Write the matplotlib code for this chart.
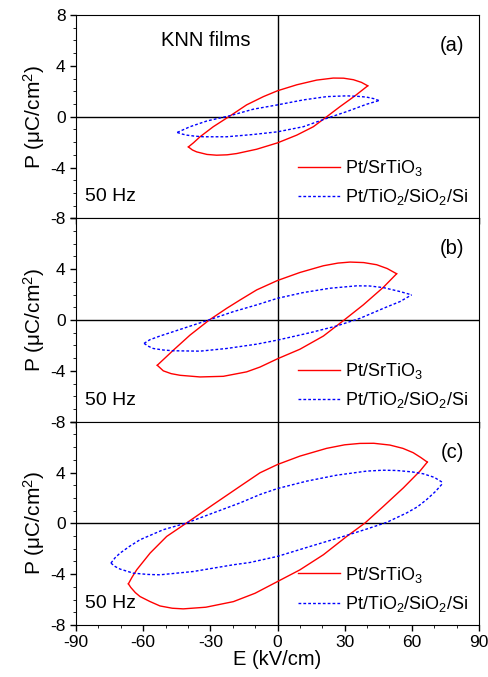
import matplotlib
matplotlib.use("Agg")
import matplotlib.pyplot as plt
from matplotlib.ticker import MultipleLocator

plt.rcParams["font.family"] = ["Liberation Sans", "DejaVu Sans"]
plt.rcParams["mathtext.default"] = "regular"
plt.rcParams["axes.unicode_minus"] = False

# ---- panel (a) ----
a_red_up_E = [-39.8, -37.5, -34.6, -28.7, -21.2, -13.8, -6.3, 0, 8.6, 17.5, 24.9, 29.5, 33.9, 37.5, 40.3]
a_red_up_P = [-2.38, -2.05, -1.58, -0.79, 0.06, 0.93, 1.58, 2.04, 2.51, 2.88, 3.04, 3.03, 2.91, 2.70, 2.43]
a_red_lo_E = [-39.8, -38.0, -36.1, -31.5, -27.2, -22.5, -18.2, -9.3, 0, 8.6, 16.0, 22.0, 27.9, 34.6, 40.3]
a_red_lo_P = [-2.38, -2.62, -2.77, -2.97, -3.03, -3.00, -2.90, -2.56, -2.06, -1.45, -0.79, 0.0, 0.79, 1.64, 2.43]
a_blu_up_E = [-44.8, -39.1, -31.6, -21.2, -10.8, 0, 11.5, 22.0, 30.9, 36.0, 39.8, 43.0, 45.3]
a_blu_up_P = [-1.24, -0.79, -0.34, 0.08, 0.59, 0.93, 1.32, 1.58, 1.64, 1.60, 1.54, 1.42, 1.27]
a_blu_lo_E = [-44.8, -42.5, -40.6, -37.0, -33.1, -22.7, -10.8, 0, 11.5, 22.0, 30.9, 39.8, 45.3]
a_blu_lo_P = [-1.24, -1.37, -1.45, -1.53, -1.58, -1.58, -1.40, -1.19, -0.79, -0.13, 0.40, 0.98, 1.27]

# ---- panel (b) ----
b_red_up_E = [-53.7, -50.0, -46.5, -39.1, -30.5, -22.7, -16.7, -9.3, 0, 10.0, 20.5, 27.0, 32.4, 38.5, 44.3, 49.0, 53.2]
b_red_up_P = [-3.56, -2.95, -2.37, -1.19, 0.0, 0.92, 1.58, 2.37, 3.11, 3.74, 4.27, 4.48, 4.56, 4.52, 4.35, 4.05, 3.64]
b_red_lo_E = [-53.7, -51.0, -47.5, -43.5, -34.6, -24.2, -13.8, -7.8, 0, 10.0, 20.5, 29.4, 38.3, 47.3, 53.2]
b_red_lo_P = [-3.56, -4.00, -4.22, -4.35, -4.48, -4.43, -4.08, -3.70, -3.05, -2.30, -1.26, -0.05, 1.19, 2.58, 3.64]
b_blu_up_E = [-59.6, -57.0, -52.5, -43.5, -31.6, -19.7, -9.3, 0, 11.5, 23.4, 35.4, 41.0, 47.3, 54.7, 59.9]
b_blu_up_P = [-1.84, -1.55, -1.26, -0.74, -0.05, 0.66, 1.19, 1.71, 2.16, 2.50, 2.69, 2.68, 2.55, 2.24, 1.98]
b_blu_lo_E = [-59.6, -57.5, -55.5, -51.0, -46.5, -34.6, -22.7, -9.3, 0, 14.5, 26.4, 36.8, 47.3, 54.7, 59.9]
b_blu_lo_P = [-1.84, -2.08, -2.24, -2.36, -2.42, -2.45, -2.24, -1.90, -1.58, -1.00, -0.47, 0.13, 0.92, 1.45, 1.98]

# ---- panel (c) ----
c_red_up_E = [-66.6, -65.0, -62.9, -56.9, -49.5, -40.6, -28.7, -16.7, -7.8, 0, 10.0, 21.9, 30.0,
              36.8, 43.0, 50.2, 56.0, 60.6, 64.0, 66.9]
c_red_up_P = [-4.76, -4.25, -3.66, -2.34, -1.03, 0.03, 1.48, 2.92, 3.98, 4.63, 5.29, 5.90, 6.18,
              6.29, 6.30, 6.16, 5.90, 5.56, 5.18, 4.82]
c_red_lo_E = [-66.6, -65.5, -63.5, -61.4, -57.0, -52.5, -47.0, -42.1, -32.0, -19.7, -10.0, 0, 10.0,
              20.5, 30.9, 39.1, 47.3, 56.2, 63.6, 66.9]
c_red_lo_P = [-4.76, -5.05, -5.45, -5.76, -6.15, -6.50, -6.68, -6.73, -6.60, -6.16, -5.50, -4.58, -3.66,
              -2.47, -1.03, 0.03, 1.34, 2.79, 4.11, 4.82]
c_blu_up_E = [-74.4, -72.5, -70.3, -66.0, -61.4, -51.0, -40.6, -28.7, -16.7, -7.8, 0, 13.0, 26.4,
              39.8, 47.0, 53.2, 60.0, 65.1, 70.0, 74.0]
c_blu_up_P = [-3.13, -2.70, -2.34, -1.80, -1.29, -0.50, 0.03, 0.82, 1.61, 2.27, 2.74, 3.32, 3.79,
              4.11, 4.18, 4.16, 4.05, 3.90, 3.62, 3.19]
c_blu_lo_E = [-74.4, -72.5, -70.3, -64.4, -58.0, -52.5, -37.6, -19.7, -12.3, 0, 14.5, 29.4, 39.8,
              48.8, 57.7, 62.5, 66.6, 70.5, 74.0]
c_blu_lo_P = [-3.13, -3.40, -3.60, -3.92, -4.02, -4.05, -3.79, -3.26, -3.08, -2.60, -1.82, -1.03, -0.45,
              0.08, 0.82, 1.30, 1.87, 2.50, 3.19]

labels = ["Pt/SrTiO$_3$", "Pt/TiO$_2$/SiO$_2$/Si"]
panel_tags = ["(a)", "(b)", "(c)"]
yticks = [-8, -4, 0, 4, 8]

panels = [
    (a_red_up_E, a_red_up_P, a_red_lo_E, a_red_lo_P, a_blu_up_E, a_blu_up_P, a_blu_lo_E, a_blu_lo_P),
    (b_red_up_E, b_red_up_P, b_red_lo_E, b_red_lo_P, b_blu_up_E, b_blu_up_P, b_blu_lo_E, b_blu_lo_P),
    (c_red_up_E, c_red_up_P, c_red_lo_E, c_red_lo_P, c_blu_up_E, c_blu_up_P, c_blu_lo_E, c_blu_lo_P),
]

fig, axs = plt.subplots(3, 1, figsize=(4.89, 6.77), dpi=100, sharex=True)
plt.subplots_adjust(left=0.1554, right=0.9796, bottom=0.0768, top=0.9778, hspace=0)

for i, ax in enumerate(axs):
    rue, rup, rle, rlp, bue, bup, ble, blp = panels[i]
    ax.axhline(0, color="k", lw=1)
    ax.axvline(0, color="k", lw=1)
    l1, = ax.plot(rue, rup, color="#ff0000", lw=1)
    ax.plot(rle, rlp, color="#ff0000", lw=1)
    l2, = ax.plot(bue, bup, color="#0000ff", lw=1, dashes=(2, 1.5))
    ax.plot(ble, blp, color="#0000ff", lw=1, dashes=(2, 1.5))
    ax.set_xlim(-90, 90)
    ax.set_ylim(-8, 8)
    ax.xaxis.set_major_locator(MultipleLocator(30))
    ax.xaxis.set_minor_locator(MultipleLocator(10))
    ax.set_yticks(yticks)
    if i == 0:
        ax.set_yticklabels([str(t) for t in yticks])
    else:
        ax.set_yticklabels([str(t) for t in yticks[:-1]] + [""])
    ax.yaxis.set_minor_locator(MultipleLocator(1))
    ax.tick_params(labelsize=12.5, length=4, width=1)
    ax.tick_params(which="minor", length=2.5)
    ax.set_ylabel("P (μC/cm$^2$)", fontsize=15, labelpad=2)
    ax.text(78, 5.6, panel_tags[i], fontsize=14.5, ha="center", va="center")
    ax.text(-86, -6.3, "50 Hz", fontsize=14, ha="left", va="center")
    ax.legend([l1, l2], labels, loc="lower left", bbox_to_anchor=(0.552, 0.055),
              frameon=False, fontsize=13, handlelength=2.3, handletextpad=0.3,
              labelspacing=0.5, borderpad=0, borderaxespad=0)

axs[0].text(-32, 6.0, "KNN films", fontsize=14.5, ha="center", va="center")
axs[2].set_xlabel("E (kV/cm)", fontsize=14.5, labelpad=0)
axs[2].set_xticks([-90, -60, -30, 0, 30, 60, 90])

fig.savefig("out.png", dpi=100)
